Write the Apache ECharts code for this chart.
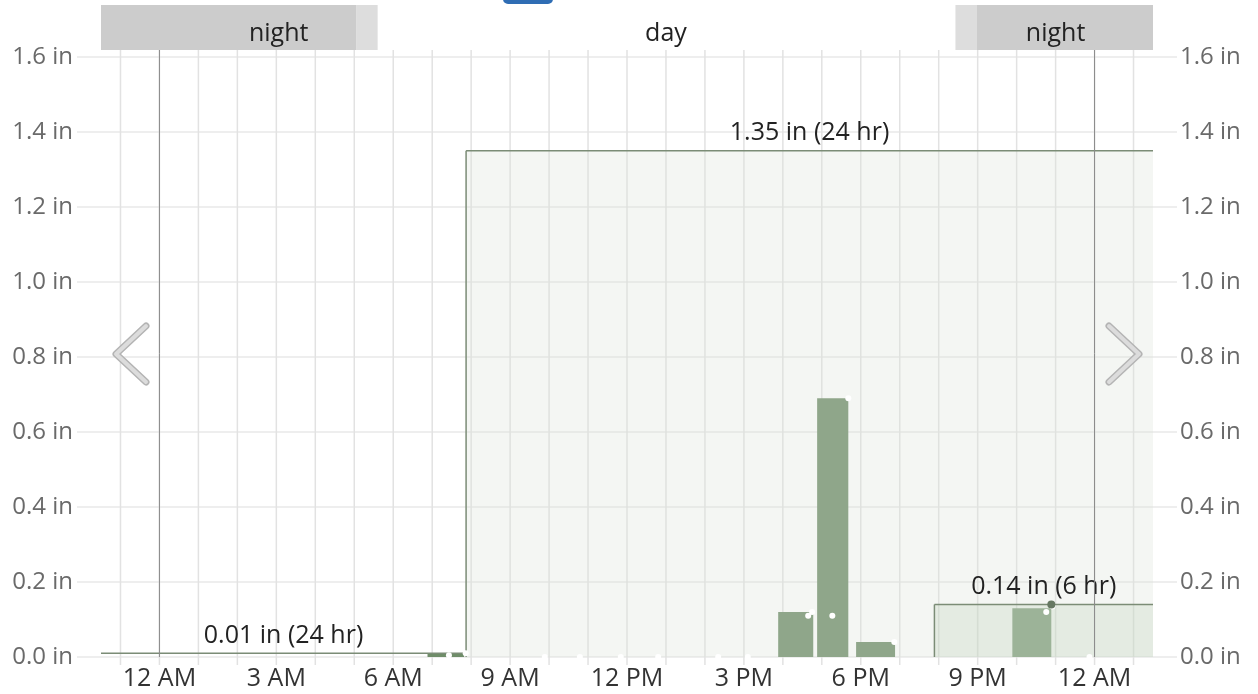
<!DOCTYPE html>
<html>
<head>
<meta charset="utf-8">
<script src="https://cdn.jsdelivr.net/npm/echarts@6/dist/echarts.min.js"></script>
<style>
html,body{margin:0;padding:0;background:#fff;}
#chart{width:1258px;height:694px;}
</style>
</head>
<body>
<div id="chart"></div>
<script>
// ---------- data ----------
const xMin = -1.5, xMax = 25.5;              // hours relative to midnight
const gridHours = [-1,0,1,2,3,4,5,6,7,8,9,10,11,12,13,14,15,16,17,18,19,20,21,22,23,24,25];
const midnightHours = [0, 24];
const xTickHours = [0, 3, 6, 9, 12, 15, 18, 21, 24];
const xTickLabels = ['12 AM','3 AM','6 AM','9 AM','12 PM','3 PM','6 PM','9 PM','12 AM'];

const yMin = 0, yMax = 1.6, yStep = 0.2;

const bandStart = [-1.5, 5.06, 20.43, 20.97];
const bandEnd   = [5.06, 5.60, 20.97, 25.5];
const bandKind  = ['night', 'twilight', 'twilight', 'night'];
const bandLabelText = ['night', 'day', 'night'];
const bandLabelHour = [3.06, 13.0, 23.0];

const accStart = [-1.5, 7.87, 19.89];
const accEnd   = [7.87, 25.5, 25.5];
const accValue = [0.01, 1.35, 0.14];
const accLabel = ['0.01 in (24 hr)', '1.35 in (24 hr)', '0.14 in (6 hr)'];

const barStart = [6.88, 15.88, 16.88, 17.88, 21.89];
const barEnd   = [7.82, 16.78, 17.68, 18.88, 22.89];
const barValue = [0.01, 0.12, 0.69, 0.04, 0.13];

const dotHour  = [7.43, 7.86, 9.89, 10.79, 11.84, 12.8, 14.34, 15.1, 16.65, 16.75, 17.27, 17.68, 18.86, 22.76, 22.92, 23.87];
const dotValue = [0.005, 0.01, 0, 0, 0, 0, 0, 0, 0.11, 0.12, 0.11, 0.69, 0.04, 0.12, 0.135, 0];
const nowHour = 22.89, nowValue = 0.14;

// ---------- styles ----------
const FONT = "'Open Sans', sans-serif";
const bandColors = { night: '#cccccc', twilight: '#dddddd' };
const accFill = ['rgba(0,0,0,0)', 'rgba(218,225,215,0.3)', 'rgba(189,210,186,0.3)'];
const accStroke = '#7b8c76';
const barColor = '#6f8d69';

const chart = echarts.init(document.getElementById('chart'), null, { renderer: 'canvas' });

const hiddenX = (gi) => ({ type: 'value', gridIndex: gi, min: xMin, max: xMax, show: false });
const hiddenY = (gi, mn, mx) => ({ type: 'value', gridIndex: gi, min: mn, max: mx, show: false });

const option = {
  animation: false,
  textStyle: { fontFamily: FONT },
  grid: [
    { left: 77, right: 81, top: 57, bottom: 37 },    // 0: y labels & horizontal lines
    { left: 101, right: 105, top: 50, bottom: 29 },  // 1: hourly vertical lines & x labels
    { left: 101, right: 105, top: 57, bottom: 37 },  // 2: data
    { left: 101, right: 105, top: 5, height: 45 }    // 3: day/night strip
  ],
  xAxis: [
    hiddenX(0),
    {
      type: 'value', gridIndex: 1, min: xMin, max: xMax,
      axisLine: { show: false },
      axisTick: { show: false, customValues: gridHours },
      splitLine: { show: false },
      axisLabel: {
        customValues: xTickHours,
        formatter: (v) => xTickLabels[xTickHours.indexOf(Math.round(v))] || '',
        color: '#333', fontSize: 25, fontFamily: FONT, margin: 1
      }
    },
    hiddenX(2),
    hiddenX(3)
  ],
  yAxis: [
    {
      type: 'value', gridIndex: 0, position: 'left', min: yMin, max: yMax, interval: yStep,
      axisLine: { show: false }, axisTick: { show: false },
      splitLine: { show: true, lineStyle: { color: '#e9e9e9', width: 1.5 } },
      axisLabel: { formatter: (v) => v.toFixed(1) + ' in', color: '#6a6a6a', fontSize: 24, fontFamily: FONT, margin: 4, padding: [5, 0, 0, 0] }
    },
    {
      type: 'value', gridIndex: 0, position: 'right', min: yMin, max: yMax, interval: yStep,
      axisLine: { show: false }, axisTick: { show: false }, splitLine: { show: false },
      axisLabel: { formatter: (v) => v.toFixed(1) + ' in', color: '#6a6a6a', fontSize: 24, fontFamily: FONT, margin: 3, padding: [5, 0, 0, 0] }
    },
    hiddenY(1, 0, 1),
    hiddenY(2, yMin, yMax),
    hiddenY(3, 0, 1)
  ],
  graphic: [
    { type: 'rect', shape: { x: 503, y: -7, width: 50, height: 11, r: 5 }, style: { fill: '#2f6db4' }, z: 100 },
    { type: 'polyline', shape: { points: [[146, 326], [116, 354], [146, 382]] }, style: { stroke: '#b4b4b4', lineWidth: 7, lineCap: 'round', lineJoin: 'round', fill: null }, z: 100 },
    { type: 'polyline', shape: { points: [[146, 326], [116, 354], [146, 382]] }, style: { stroke: '#dcdcdc', lineWidth: 4, lineCap: 'round', lineJoin: 'round', fill: null }, z: 101 },
    { type: 'polyline', shape: { points: [[1109, 326], [1139, 354], [1109, 382]] }, style: { stroke: '#b4b4b4', lineWidth: 7, lineCap: 'round', lineJoin: 'round', fill: null }, z: 100 },
    { type: 'polyline', shape: { points: [[1109, 326], [1139, 354], [1109, 382]] }, style: { stroke: '#dcdcdc', lineWidth: 4, lineCap: 'round', lineJoin: 'round', fill: null }, z: 101 }
  ],
  series: [
    // hourly vertical grid lines
    {
      type: 'custom', xAxisIndex: 1, yAxisIndex: 2, z: 1, silent: true,
      data: gridHours.map(h => [h]),
      renderItem: (params, api) => {
        const p0 = api.coord([api.value(0), 0]);
        const p1 = api.coord([api.value(0), 1]);
        return { type: 'line', shape: { x1: p0[0], y1: p0[1], x2: p1[0], y2: p1[1] }, style: { stroke: '#e2e2e2', lineWidth: 1.5 } };
      }
    },
    // bars
    {
      type: 'custom', xAxisIndex: 2, yAxisIndex: 3, z: 2, silent: true,
      data: barValue.map((v, i) => [barStart[i], barEnd[i], v]),
      renderItem: (params, api) => {
        const a = api.coord([api.value(0), api.value(2)]);
        const b = api.coord([api.value(1), 0]);
        return { type: 'rect', shape: { x: a[0], y: a[1], width: b[0] - a[0], height: b[1] - a[1] }, style: { fill: barColor } };
      }
    },
    // accumulation boxes (fills drawn above bars, semi-transparent)
    {
      type: 'custom', xAxisIndex: 2, yAxisIndex: 3, z: 3, silent: true,
      data: accValue.map((v, i) => [accStart[i], accEnd[i], v]),
      renderItem: (params, api) => {
        const i = params.dataIndex;
        const s = api.value(0), e = api.value(1), v = api.value(2);
        const a = api.coord([s, v]);
        const b = api.coord([e, 0]);
        const children = [
          { type: 'rect', shape: { x: a[0], y: a[1], width: b[0] - a[0], height: b[1] - a[1] }, style: { fill: accFill[i] } },
          { type: 'line', shape: { x1: a[0], y1: a[1], x2: b[0], y2: a[1] }, style: { stroke: accStroke, lineWidth: 1.5 } }
        ];
        if (s > xMin) {
          children.push({ type: 'line', shape: { x1: a[0], y1: a[1], x2: a[0], y2: b[1] }, style: { stroke: accStroke, lineWidth: 1.5 } });
        }
        children.push({
          type: 'text', z2: 10,
          style: { text: accLabel[i], x: (a[0] + b[0]) / 2, y: a[1] - 5, align: 'center', verticalAlign: 'bottom', fill: '#222', font: '25px ' + FONT }
        });
        return { type: 'group', children };
      }
    },
    // midnight lines
    {
      type: 'custom', xAxisIndex: 2, yAxisIndex: 3, z: 4, silent: true,
      data: midnightHours.map(h => [h]),
      renderItem: (params, api) => {
        const p0 = api.coord([api.value(0), yMin]);
        const p1 = api.coord([api.value(0), yMax]);
        return { type: 'line', shape: { x1: p0[0], y1: p0[1], x2: p1[0], y2: p1[1] - 7 }, style: { stroke: '#8a8a8a', lineWidth: 1 } };
      }
    },
    // white points
    {
      type: 'scatter', xAxisIndex: 2, yAxisIndex: 3, z: 5, silent: true,
      symbolSize: 6, itemStyle: { color: '#ffffff', opacity: 1 },
      data: dotHour.map((h, i) => [h, dotValue[i]])
    },
    {
      type: 'scatter', xAxisIndex: 2, yAxisIndex: 3, z: 6, silent: true,
      symbolSize: 8, itemStyle: { color: '#667862', opacity: 1 },
      data: [[nowHour, nowValue]]
    },
    // day / night strip
    {
      type: 'custom', xAxisIndex: 3, yAxisIndex: 4, z: 2, silent: true,
      data: bandStart.map((s, i) => [s, bandEnd[i]]),
      renderItem: (params, api) => {
        const a = api.coord([api.value(0), 1]);
        const b = api.coord([api.value(1), 0]);
        return { type: 'rect', shape: { x: a[0], y: a[1], width: b[0] - a[0], height: b[1] - a[1] }, style: { fill: bandColors[bandKind[params.dataIndex]] } };
      }
    },
    {
      type: 'custom', xAxisIndex: 3, yAxisIndex: 4, z: 3, silent: true,
      data: bandLabelHour.map(h => [h, 0.5]),
      renderItem: (params, api) => {
        const p = api.coord([api.value(0), api.value(1)]);
        return { type: 'text', style: { text: bandLabelText[params.dataIndex], x: p[0], y: p[1] + 6, align: 'center', verticalAlign: 'middle', fill: '#222', font: '25px ' + FONT } };
      }
    }
  ]
};
chart.setOption(option);
</script>
</body>
</html>
